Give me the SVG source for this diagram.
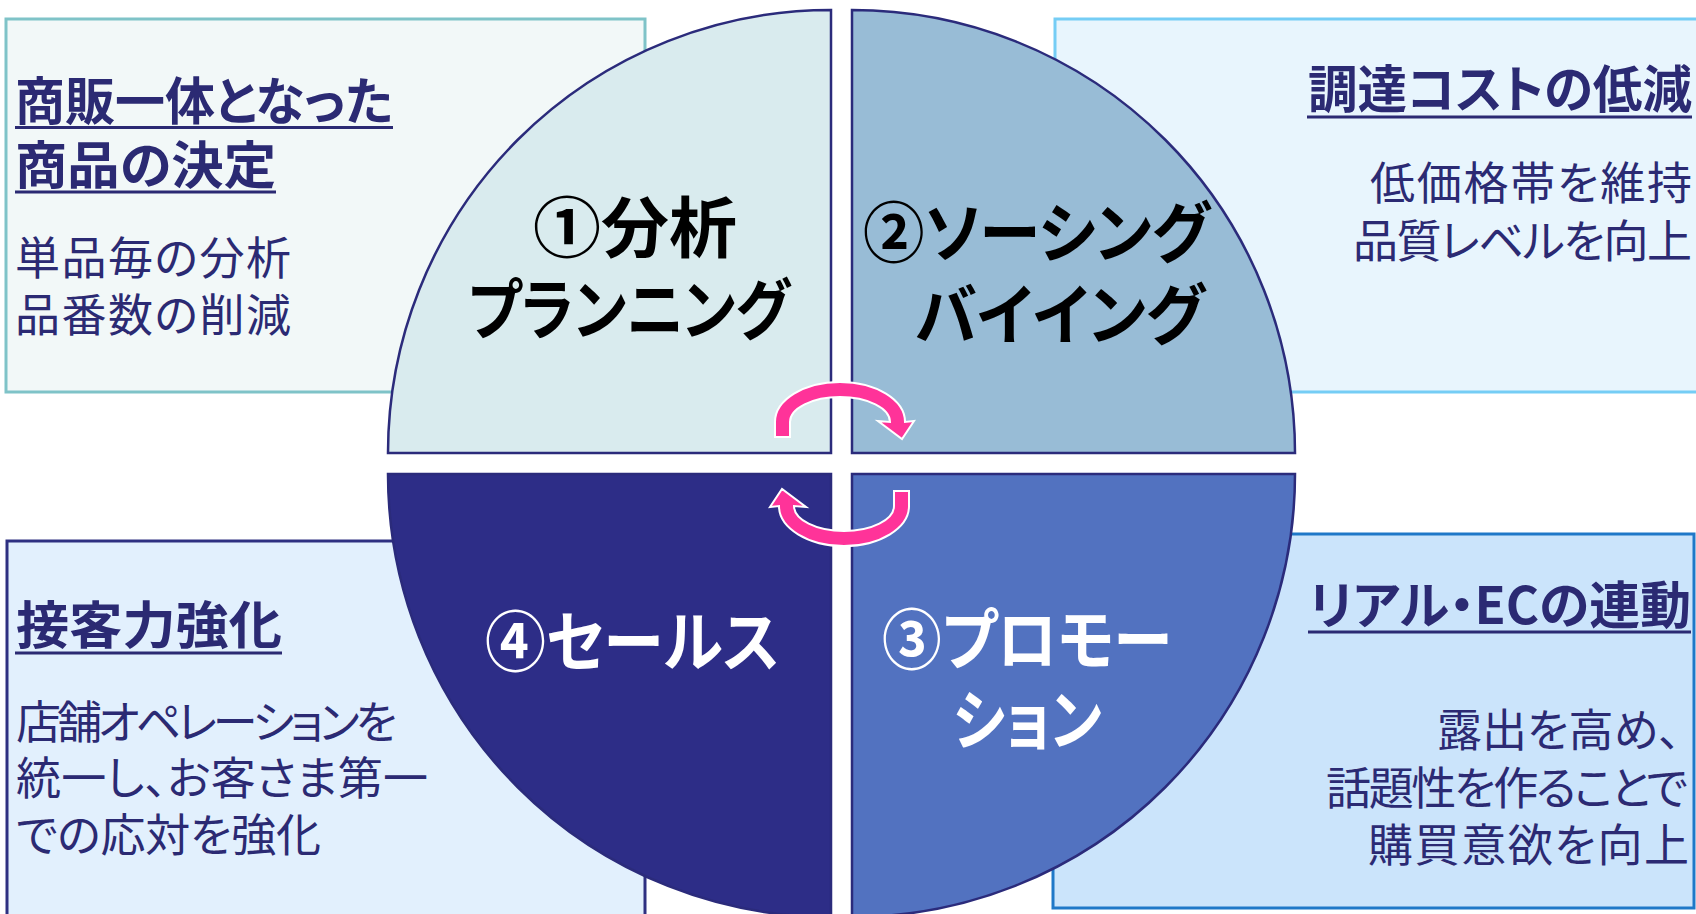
<svg xmlns="http://www.w3.org/2000/svg" width="1696" height="914" viewBox="0 0 1696 914">
<style>
text{font-family:"Noto Sans CJK JP","Noto Sans",sans-serif;font-feature-settings:"palt";}
.h{font-weight:700;font-size:51px;fill:#2b2a73;}
.b{font-weight:400;font-size:45px;fill:#2b2a73;}
.q{font-weight:700;font-size:66px;fill:#000;}
.qw{font-weight:700;font-size:66px;fill:#fff;}
.ul{stroke:#2b2a73;stroke-width:3;}
.quad{stroke:#2b2b7b;stroke-width:2.5;}
.arrow{fill:#ff3399;stroke:#fff;stroke-width:2;stroke-linejoin:miter;}
</style>
<defs>
<path id="cyc" class="arrow" d="M775,437 L775,422 A65 40 0 0 1 905,422 L914,421 L902,439 L878,421 L890,422 A50 25 0 0 0 790,422 L790,437 Z"/>
</defs>

<g id="box-tl">
<rect x="6" y="19" width="639" height="373" fill="#f2f8f8" stroke="#7fc3c8" stroke-width="3"/>
</g>
<g id="box-tr">
<rect x="1055" y="19" width="660" height="373" fill="#e8f5fd" stroke="#75cdf5" stroke-width="3"/>
</g>
<g id="box-bl">
<rect x="7" y="541" width="638" height="400" fill="#e2f0fd" stroke="#2e3081" stroke-width="3"/>
</g>
<g id="box-br">
<rect x="1053" y="534" width="641" height="374" fill="#cbe4fb" stroke="#1f78c8" stroke-width="3"/>
</g>

<g id="quad-1">
<path class="quad" fill="#d9ebee" d="M831,453 L388,453 A443 443 0 0 1 831,10 Z"/>
<text class="q" x="533" y="252" textLength="204" lengthAdjust="spacingAndGlyphs">①分析</text>
<text class="q" x="468" y="334" textLength="322" lengthAdjust="spacingAndGlyphs">プランニング</text>
</g>
<g id="quad-2">
<path class="quad" fill="#98bcd6" d="M852,453 L852,10 A443 443 0 0 1 1295,453 Z"/>
<text class="q" x="863" y="257" textLength="347" lengthAdjust="spacingAndGlyphs">②ソーシング</text>
<text class="q" x="915" y="339" textLength="290" lengthAdjust="spacingAndGlyphs">バイイング</text>
</g>
<g id="quad-3">
<path class="quad" fill="#5272c0" d="M852,474 L1295,474 A443 443 0 0 1 852,917 Z"/>
<text class="qw" x="882" y="664" textLength="290" lengthAdjust="spacingAndGlyphs">③プロモー</text>
<text class="qw" x="953" y="744" textLength="149" lengthAdjust="spacingAndGlyphs">ション</text>
</g>
<g id="quad-4">
<path class="quad" fill="#2d2d87" d="M831,474 L831,917 A443 443 0 0 1 388,474 Z"/>
<text class="qw" x="485" y="666" textLength="295" lengthAdjust="spacingAndGlyphs">④セールス</text>
</g>

<g id="text-tl">
<text class="h" x="15" y="120" textLength="378" lengthAdjust="spacingAndGlyphs">商販一体となった</text>
<line class="ul" x1="15" y1="127.5" x2="393" y2="127.5"/>
<text class="h" x="15" y="184" textLength="261" lengthAdjust="spacingAndGlyphs">商品の決定</text>
<line class="ul" x1="15" y1="192" x2="276" y2="192"/>
<text class="b" x="15" y="275" textLength="276" lengthAdjust="spacing">単品毎の分析</text>
<text class="b" x="15" y="332" textLength="276" lengthAdjust="spacing">品番数の削減</text>
</g>
<g id="text-tr">
<text class="h" x="1308" y="108" textLength="384" lengthAdjust="spacingAndGlyphs">調達コストの低減</text>
<line class="ul" x1="1307" y1="117" x2="1692" y2="117"/>
<text class="b" x="1370" y="200" textLength="322" lengthAdjust="spacing">低価格帯を維持</text>
<text class="b" x="1353" y="258" textLength="339" lengthAdjust="spacing">品質レベルを向上</text>
</g>
<g id="text-bl">
<text class="h" x="16" y="644" textLength="266" lengthAdjust="spacingAndGlyphs">接客力強化</text>
<line class="ul" x1="15" y1="653" x2="282" y2="653"/>
<text class="b" x="16" y="739" textLength="381" lengthAdjust="spacing">店舗オペレーションを</text>
<text class="b" x="16" y="795" textLength="412" lengthAdjust="spacing">統一し、お客さま第一</text>
<text class="b" x="16" y="852" textLength="305" lengthAdjust="spacing">での応対を強化</text>
</g>
<g id="text-br">
<text class="h" x="1309" y="624" textLength="382" lengthAdjust="spacingAndGlyphs">リアル・ECの連動</text>
<line class="ul" x1="1308" y1="632" x2="1691" y2="632"/>
<text class="b" x="1437" y="747">露出を高め、</text>
<text class="b" x="1326" y="805" textLength="362" lengthAdjust="spacing">話題性を作ることで</text>
<text class="b" x="1368" y="862" textLength="321" lengthAdjust="spacing">購買意欲を向上</text>
</g>

<g id="connectors">
<use href="#cyc"/>
<use href="#cyc" transform="rotate(180 842 464)"/>
</g>
</svg>
